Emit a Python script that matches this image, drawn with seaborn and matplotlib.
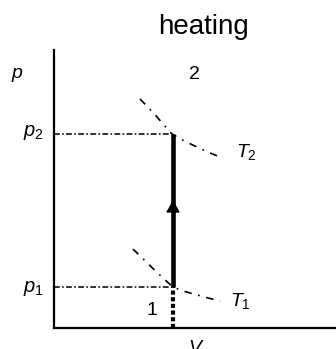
import numpy as np
import pandas as pd
import matplotlib
matplotlib.use("Agg")
import matplotlib.pyplot as plt
import seaborn as sns

# state points (arbitrary units)
V1 = 4.22
p1 = 1.47
p2 = 6.98
p_arrow = 4.6

# isotherm sketches through the two states
T1_V = [2.80, 3.20, 3.60, 3.95, 4.22, 4.65, 5.07, 5.50, 5.89]
T1_p = [2.84, 2.45, 2.05, 1.72, 1.47, 1.31, 1.19, 1.07, 0.97]
T2_V = [3.05, 3.35, 3.62, 3.90, 4.18, 4.62, 5.07, 5.50, 5.96]
T2_p = [8.24, 7.92, 7.63, 7.30, 6.98, 6.73, 6.51, 6.31, 6.12]

sns.set_style("white")
plt.rcParams["font.family"] = ["Liberation Sans", "DejaVu Sans"]
plt.rcParams["mathtext.fontset"] = "custom"
plt.rcParams["mathtext.rm"] = "Liberation Sans"
plt.rcParams["mathtext.it"] = "Liberation Sans:italic"
plt.rcParams["text.color"] = "black"

W, H = 336, 349
fig = plt.figure(figsize=(W / 100, H / 100), dpi=100)
ax = fig.add_axes([54 / W, 21 / H, 282 / W, 278 / H])
ax.set_xlim(0, 10)
ax.set_ylim(0, 10)

iso = pd.concat([
    pd.DataFrame({"V": T1_V, "p": T1_p, "T": "T1"}),
    pd.DataFrame({"V": T2_V, "p": T2_p, "T": "T2"}),
])
for name, grp in iso.groupby("T"):
    sns.lineplot(data=grp, x="V", y="p", sort=False, estimator=None, ax=ax,
                 color="black", lw=1.2, linestyle=(0, (4.5, 4, 1, 4)))

# guide lines to the axis
for p in (p1, p2):
    ax.plot([0, V1], [p, p], color="#222222", lw=1.3, linestyle=(0, (3.2, 1.3, 0.9, 1.3)))
ax.plot([V1, V1], [0, p1], color="black", lw=3.0, linestyle=(0, (1, 0.6)))

# heating path 1 -> 2
ax.plot([V1, V1], [p1, p2], color="black", lw=3.3, solid_capstyle="butt")
ax.annotate("", xy=(V1, p_arrow), xytext=(V1, p1),
            arrowprops=dict(arrowstyle="-|>,head_length=0.75,head_width=0.42",
                            color="black", lw=1, shrinkA=0, shrinkB=0,
                            mutation_scale=10))

sns.despine(ax=ax)
for s in ("left", "bottom"):
    ax.spines[s].set_color("black")
    ax.spines[s].set_linewidth(1.6)
ax.set_xticks([])
ax.set_yticks([])
ax.set_xlabel("")
ax.set_ylabel("")


def put(x, y, s, **kw):
    fig.text(x / W, 1 - y / H, s, color="black", **kw)


put(203, 26.5, "heating", fontsize=20, ha="center", va="center")
put(17, 75, "$p$", fontsize=14, ha="center", va="center")
put(33, 132, "$p_2$", fontsize=14.5, ha="center", va="center")
put(33, 288, "$p_1$", fontsize=14.5, ha="center", va="center")
put(246, 152, "$T_2$", fontsize=14, ha="center", va="center")
put(240, 301, "$T_1$", fontsize=14, ha="center", va="center")
put(194, 79, "2", fontsize=14, ha="center", va="baseline")
put(152, 315, "1", fontsize=14, ha="center", va="baseline")
put(196, 340, "$V$", fontsize=14, ha="center", va="top")

fig.savefig("out.png", dpi=100)
